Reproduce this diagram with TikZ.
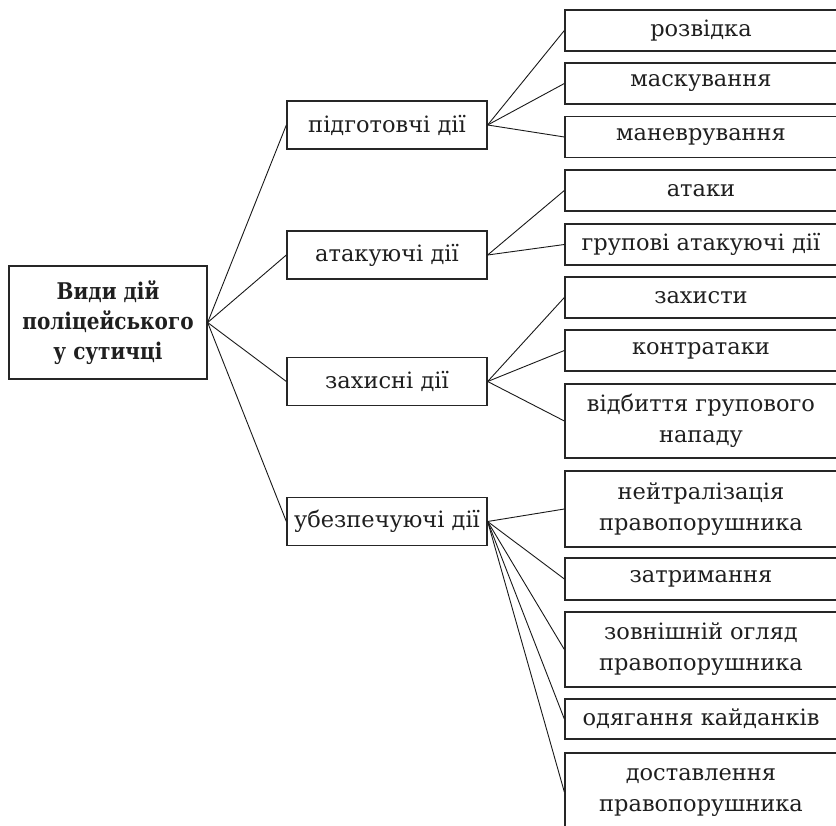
\documentclass[tikz,border=0pt]{standalone}
\usepackage{fontspec}
\setmainfont{DejaVu Serif}
\newfontfamily\rootfont{DejaVu Serif}[FakeStretch=0.87]
\begin{document}
\begin{tikzpicture}[x=1pt,y=-1pt,
  box/.style={draw=black!85, line width=1.3pt, inner sep=0pt, align=center,
    font=\fontsize{22.5}{31}\selectfont, text=black!88},
  mid/.style={box, minimum width=200pt, minimum height=48pt},
  leaf/.style={box, minimum width=272pt, minimum height=41pt},
  tall/.style={box, minimum width=272pt, minimum height=75pt},
  link/.style={draw=black!90, line width=0.9pt}]
\useasboundingbox (0,0) rectangle (836,826);
\clip (0,0) rectangle (836,826);
\node[box, minimum width=198pt, minimum height=113pt, font=\rootfont\fontsize{23}{30}\selectfont\bfseries] (root) at (108,322.5) {Види дій\\поліцейського\\у сутичці};
\node[mid] (p1) at (387,125) {підготовчі дії};
\node[mid] (p2) at (387,255) {атакуючі дії};
\node[mid] (p3) at (387,381.5) {захисні дії};
\node[mid] (p4) at (387,521.5) {убезпечуючі дії};
\node[leaf] (l1) at (701,30.5) {розвідка};
\node[leaf] (l2) at (701,83.5) {маскування};
\node[leaf] (l3) at (701,137) {маневрування};
\node[leaf] (l4) at (701,190.5) {атаки};
\node[leaf] (l5) at (701,244.5) {групові атакуючі дії};
\node[leaf] (l6) at (701,297.5) {захисти};
\node[leaf] (l7) at (701,350.5) {контратаки};
\node[tall, minimum height=74pt] (l8) at (701,421) {відбиття групового\\нападу};
\node[tall, minimum height=76pt] (l9) at (701,509) {нейтралізація\\правопорушника};
\node[leaf, minimum height=42pt] (l10) at (701,579) {затримання};
\node[tall] (l11) at (701,649.5) {зовнішній огляд\\правопорушника};
\node[leaf, minimum height=40pt] (l12) at (701,719) {одягання кайданків};
\node[tall, minimum height=78pt] (l13) at (701,792) {доставлення\\правопорушника};
\foreach \p in {p1,p2,p3,p4} \draw[link] (root.east) -- (\p.west);
\foreach \l in {l1,l2,l3} \draw[link] (p1.east) -- (\l.west);
\foreach \l in {l4,l5} \draw[link] (p2.east) -- (\l.west);
\foreach \l in {l6,l7,l8} \draw[link] (p3.east) -- (\l.west);
\foreach \l in {l9,l10,l11,l12,l13} \draw[link] (p4.east) -- (\l.west);
\end{tikzpicture}
\end{document}
